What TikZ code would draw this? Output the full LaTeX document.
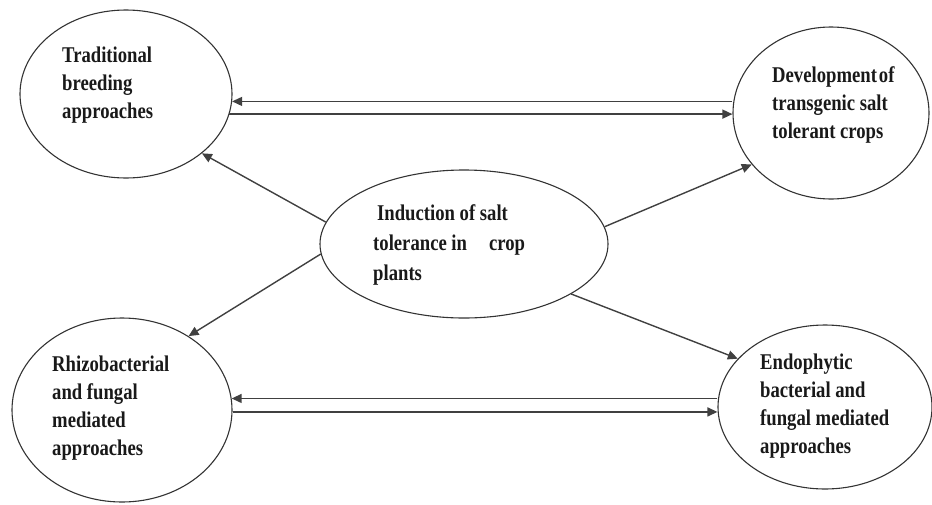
\documentclass[tikz,border=0pt]{standalone}
\usepackage{fontspec}
\setmainfont[FakeStretch=0.83]{Liberation Serif}
\usetikzlibrary{shapes.geometric,arrows.meta}
\begin{document}
\begin{tikzpicture}[x=1pt,y=-1pt,
  oval/.style={draw=black!80,line width=1.1pt,ellipse,inner sep=0pt},
  lbl/.style={anchor=north west,inner sep=0pt,align=left,
    font=\fontsize{22.5}{28}\selectfont\bfseries,text=black!90},
  arr/.style={draw=black!75,line width=1.4pt,-{Triangle[length=10pt,width=9pt]}},
  bar/.style={draw=black!75,line width=1.4pt}]
\useasboundingbox (0,0) rectangle (932,504);
\node[oval,minimum width=212pt,minimum height=168pt] (tl) at (126,94) {};
\node[oval,minimum width=196pt,minimum height=172pt] (tr) at (831,113) {};
\node[oval,minimum width=288pt,minimum height=148pt] (c) at (464,244) {};
\node[oval,minimum width=220pt,minimum height=184pt] (bl) at (122,410) {};
\node[oval,minimum width=214pt,minimum height=164pt] (br) at (825,407) {};
\node[lbl] (tlt) at (62,47) {Traditional\\breeding\\approaches};
\node[lbl] (trt) at (772,66) {Development\hspace{2pt}of\\transgenic salt\\tolerant crops};
\node[lbl,font=\fontsize{22.5}{30}\selectfont\bfseries] (ct) at (373,204) {\hspace{4pt}Induction of salt\\tolerance in\hspace{22pt}crop\\plants};
\node[lbl] (blt) at (52,356) {Rhizobacterial\\and fungal\\mediated\\approaches};
\node[lbl] (brt) at (760,354) {Endophytic\\bacterial and\\fungal mediated\\approaches};
% horizontal pairs
\draw[arr] (tr.west |- tl.-4) -- (tl.-4);
\draw[arr] (tl.-11) -- (tr.west |- tl.-11);
\draw[arr] (br.west |- bl.6) -- (bl.6);
\draw[arr] (bl.-1) -- (br.west |- bl.-1);
% diagonals
\draw[arr] (c.171) -- (tl.-38);
\draw[arr] (c.7.5) -- (tr.-147);
\draw[arr] (c.-176) -- (bl.48);
\draw[arr] (c.-25.5) -- (br.151);
\end{tikzpicture}
\end{document}
